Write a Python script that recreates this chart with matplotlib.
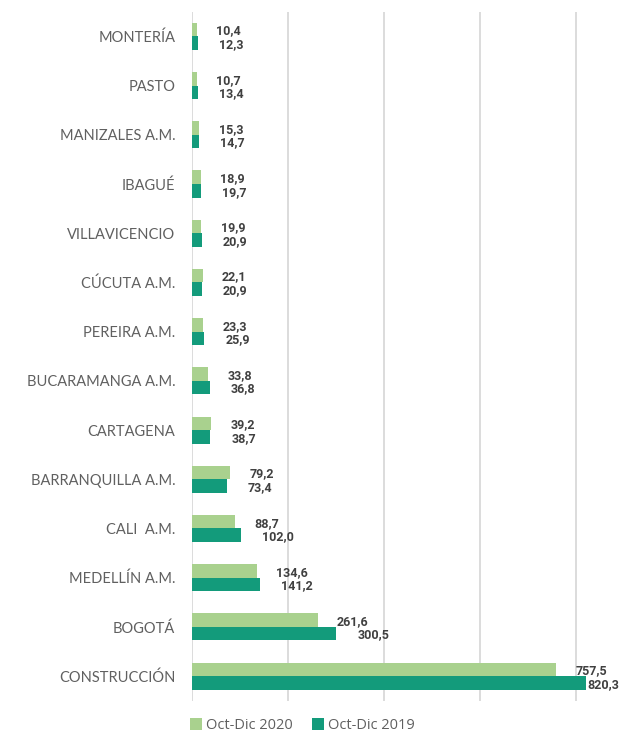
import numpy as np
import matplotlib.pyplot as plt

ciudades = ['MONTERÍA', 'PASTO', 'MANIZALES A.M.', 'IBAGUÉ', 'VILLAVICENCIO',
            'CÚCUTA A.M.', 'PEREIRA A.M.', 'BUCARAMANGA A.M.', 'CARTAGENA',
            'BARRANQUILLA A.M.', 'CALI  A.M.', 'MEDELLÍN A.M.', 'BOGOTÁ',
            'CONSTRUCCIÓN']
oct_dic_2020 = [10.4, 10.7, 15.3, 18.9, 19.9, 22.1, 23.3, 33.8, 39.2, 79.2,
                88.7, 134.6, 261.6, 757.5]
oct_dic_2019 = [12.3, 13.4, 14.7, 19.7, 20.9, 20.9, 25.9, 36.8, 38.7, 73.4,
                102.0, 141.2, 300.5, 820.3]

claro = '#A9D18E'
oscuro = '#139B7B'
gris = '#606060'

def fmt(v):
    return f'{v:.1f}'.replace('.', ',')

fig = plt.figure(figsize=(6.21, 7.33), dpi=100)
ax = fig.add_axes([0.309, 0.044, 0.681, 0.940])

y = np.arange(len(ciudades))
h = 0.275
ax.barh(y - h / 2, oct_dic_2020, height=h, color=claro, label='Oct-Dic 2020', zorder=3)
ax.barh(y + h / 2, oct_dic_2019, height=h, color=oscuro, label='Oct-Dic 2019', zorder=3)

etq = dict(fontsize=9, fontweight='bold', color='#404040',
           family=['Roboto', 'DejaVu Sans'], clip_on=False)
vmax = max(oct_dic_2019)
for i in range(len(ciudades)):
    ax.annotate(fmt(oct_dic_2020[i]), (oct_dic_2020[i], y[i] - h / 2),
                xytext=(14, -1), textcoords='offset points', ha='left', va='center', **etq)
    # la etiqueta del valor máximo no cabe a la derecha: se pega a la barra
    dx = 1 if oct_dic_2019[i] == vmax else 15
    ax.annotate(fmt(oct_dic_2019[i]), (oct_dic_2019[i], y[i] + h / 2),
                xytext=(dx, -1), textcoords='offset points', ha='left', va='center', **etq)

ax.set_xlim(0, 880)
ax.set_ylim(len(ciudades) - 0.5, -0.5)
ax.set_xticks([0, 200, 400, 600, 800])
ax.set_xticklabels([])
ax.tick_params(axis='x', length=0)
ax.tick_params(axis='y', length=0, pad=12)
ax.set_yticks(y)
ax.set_yticklabels(ciudades, fontsize=10.5, color=gris,
                   family=['Lato', 'DejaVu Sans'])
ax.grid(axis='x', color='#D9D9D9', linewidth=1.3, zorder=0)
for s in ax.spines.values():
    s.set_visible(False)

leg = fig.legend(loc='lower center', bbox_to_anchor=(0.487, -0.018), ncol=2,
                 frameon=False, handlelength=0.8, handleheight=0.8,
                 handletextpad=0.3, columnspacing=1.3,
                 prop={'family': ['Open Sans', 'DejaVu Sans'], 'size': 10.5})
for t in leg.get_texts():
    t.set_color(gris)

fig.savefig('out.png', dpi=100)
